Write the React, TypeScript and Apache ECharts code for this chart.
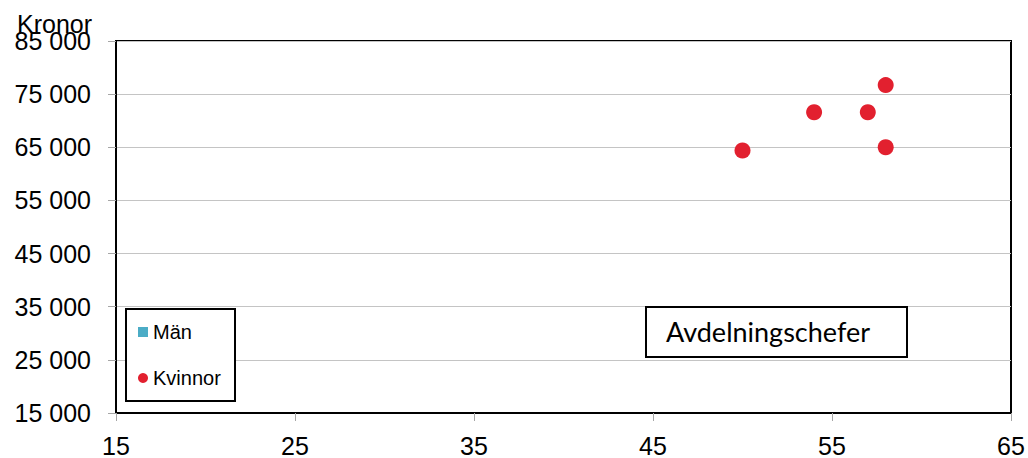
import React, { useEffect, useRef } from "react";
import * as echarts from "echarts";

// Ålder (år) mot månadslön (kronor) för avdelningschefer
const kvinnorAlder: number[] = [50, 54, 57, 58, 58];
const kvinnorLon: number[] = [64400, 71600, 71600, 76700, 65000];
const manAlder: number[] = [];
const manLon: number[] = [];

const seriesNames = ["Män", "Kvinnor"];
const yTitle = "Kronor";
const boxTitle = "Avdelningschefer";

const xMin = 15;
const xMax = 65;
const xStep = 10;
const yMin = 15000;
const yMax = 85000;
const yStep = 10000;

const fmtKr = (v: number) =>
  String(Math.round(v)).replace(/\B(?=(\d{3})+(?!\d))/g, " ");

export default function App() {
  const ref = useRef<HTMLDivElement>(null);

  useEffect(() => {
    if (!ref.current) return;
    const chart = echarts.init(ref.current, undefined, { renderer: "svg" });
    const font = "Liberation Sans, Arial, sans-serif";
    const pairs = (xs: number[], ys: number[]) => xs.map((x, i) => [x, ys[i]]);

    chart.setOption({
      animation: false,
      backgroundColor: "#ffffff",
      grid: {
        left: 116,
        top: 41,
        right: 17,
        bottom: 44,
        show: true,
        borderColor: "#000000",
        borderWidth: 2,
      },
      xAxis: {
        type: "value",
        min: xMin,
        max: xMax,
        interval: xStep,
        axisLine: { show: true, lineStyle: { color: "#000000", width: 2 } },
        axisTick: { show: true, inside: false, length: 8, lineStyle: { color: "#a6a6a6", width: 1 } },
        splitLine: { show: false },
        axisLabel: { margin: 20, fontSize: 25, color: "#000000", fontFamily: font },
      },
      yAxis: {
        type: "value",
        min: yMin,
        max: yMax,
        interval: yStep,
        axisLine: { show: true, lineStyle: { color: "#000000", width: 2 } },
        axisTick: { show: true, inside: false, length: 8, lineStyle: { color: "#a6a6a6", width: 1 } },
        splitLine: { show: true, lineStyle: { color: "#c4c4c4", width: 1 } },
        axisLabel: {
          margin: 25,
          fontSize: 25,
          color: "#000000",
          fontFamily: font,
          formatter: (v: number) => fmtKr(v),
        },
      },
      legend: {
        orient: "vertical",
        left: 138,
        top: 322,
        padding: 0,
        itemGap: 26,
        itemWidth: 10,
        itemHeight: 10,
        z: 20,
        textStyle: { fontSize: 20, lineHeight: 20, color: "#000000", fontFamily: font },
        data: [
          { name: seriesNames[0], icon: "rect" },
          { name: seriesNames[1], icon: "circle" },
        ],
      },
      graphic: [
        {
          type: "text",
          left: 17,
          top: 11,
          z: 10,
          style: { text: yTitle, fontSize: 25, fill: "#000000", fontFamily: font },
        },
        {
          type: "rect",
          shape: { x: 126, y: 309, width: 109, height: 92 },
          z: 3,
          style: { fill: "#ffffff", stroke: "#000000", lineWidth: 2 },
        },
        {
          type: "rect",
          shape: { x: 646, y: 307, width: 261, height: 50 },
          z: 3,
          style: { fill: "#ffffff", stroke: "#000000", lineWidth: 2 },
        },
        {
          type: "text",
          left: 666,
          top: 318,
          z: 6,
          style: { text: boxTitle, fontSize: 27, fill: "#000000", fontFamily: "Lato, sans-serif" },
        },
      ],
      series: [
        {
          name: seriesNames[0],
          type: "scatter",
          symbol: "rect",
          symbolSize: 10,
          itemStyle: { color: "#4bacc6", opacity: 1 },
          data: pairs(manAlder, manLon),
        },
        {
          name: seriesNames[1],
          type: "scatter",
          symbol: "circle",
          symbolSize: 16,
          itemStyle: { color: "#e2202f", opacity: 1 },
          data: pairs(kvinnorAlder, kvinnorLon),
        },
      ],
    });

    return () => chart.dispose();
  }, []);

  return (
    <div
      ref={ref}
      style={{ position: "fixed", left: 0, top: 0, width: 1028, height: 458 }}
    />
  );
}
